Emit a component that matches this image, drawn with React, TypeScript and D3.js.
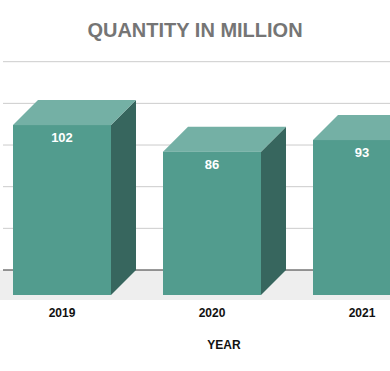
import React from 'react';
import * as d3 from 'd3';

const years = ['2019', '2020', '2021'];
const quantities = [102, 86, 93];
const gridTicks = [0, 25, 50, 75, 100, 125];

const W = 390;
const H = 371;
const depth = 25;

const App: React.FC = () => {
  const x = d3.scaleBand<string>()
    .domain(years)
    .range([-13, 437])
    .paddingInner(52 / 150)
    .paddingOuter(26 / 150);

  // back wall scale; front faces are shifted down-left by depth
  const y = d3.scaleLinear().domain([0, 125]).range([270, 61.7]);
  const bw = x.bandwidth();

  return (
    <div style={{ position: 'fixed', left: 0, top: 0, width: W, height: H, overflow: 'hidden', background: '#fff' }}>
      <svg width={W} height={H} style={{ display: 'block', fontFamily: '"Liberation Sans", Arial, sans-serif' }}>
        <text x={195} y={37} textAnchor="middle" fontSize={20} fontWeight="bold" fill="#757575">
          QUANTITY IN MILLION
        </text>

        {/* floor */}
        <rect x={0} y={y(0)} width={W} height={30} fill="#eeeeee" />

        {gridTicks.filter(t => t > 0).map(t => (
          <line key={t} x1={3} x2={W} y1={y(t)} y2={y(t)} stroke="#cccccc" strokeWidth={1} />
        ))}
        <line x1={3} x2={W} y1={y(0)} y2={y(0)} stroke="#333333" strokeWidth={1} />

        {years.map((yr, i) => {
          const x0 = x(yr)!;
          const x1 = x0 + bw;
          const top = y(quantities[i]) + depth;
          const bottom = y(0) + depth;
          return (
            <g key={yr}>
              <polygon
                points={`${x1},${top} ${x1 + depth},${top - depth} ${x1 + depth},${bottom - depth} ${x1},${bottom}`}
                fill="#37665e"
              />
              <polygon
                points={`${x0},${top} ${x0 + depth},${top - depth} ${x1 + depth},${top - depth} ${x1},${top}`}
                fill="#74b0a5"
              />
              <rect x={x0} y={top} width={bw} height={bottom - top} fill="#529c8e" />
              <text x={x0 + bw / 2} y={top + 17} textAnchor="middle" fontSize={13} fontWeight="bold" fill="#ffffff">
                {quantities[i]}
              </text>
              <text x={x0 + bw / 2} y={317} textAnchor="middle" fontSize={12} fontWeight="bold" fill="#111111">
                {yr}
              </text>
            </g>
          );
        })}

        <text x={224} y={349} textAnchor="middle" fontSize={12} fontWeight="bold" fill="#111111">
          YEAR
        </text>
      </svg>
    </div>
  );
};

export default App;
